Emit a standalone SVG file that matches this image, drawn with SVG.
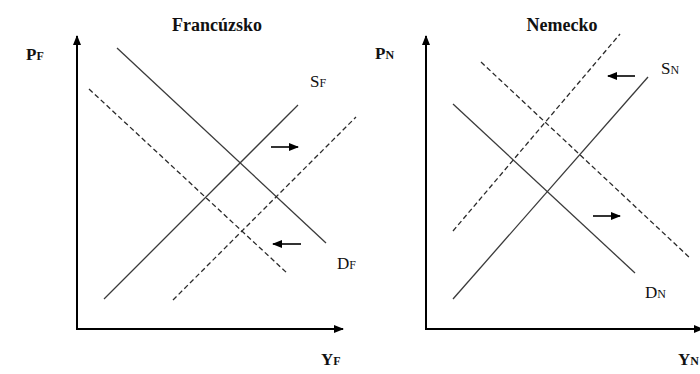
<svg xmlns="http://www.w3.org/2000/svg" width="700" height="374" viewBox="0 0 700 374">
<defs>
<marker id="ah" markerUnits="userSpaceOnUse" markerWidth="10" markerHeight="10" refX="9" refY="4" orient="auto">
<path d="M0,0 L10,4 L0,8 z" fill="#000"/>
</marker>
<marker id="sh" markerUnits="userSpaceOnUse" markerWidth="10" markerHeight="10" refX="9" refY="4" orient="auto">
<path d="M0,0 L10,4 L0,8 z" fill="#000"/>
</marker>
<style>
.axis{stroke:#000;stroke-width:2;fill:none}
.curve{stroke:#3a3a3a;stroke-width:1.3;fill:none}
.shifted{stroke:#2a2a2a;stroke-width:1.3;fill:none;stroke-dasharray:5 3}
.move{stroke:#000;stroke-width:1.6;fill:none}
.title{font-family:"Liberation Serif",serif;font-weight:bold;font-size:18px;fill:#111}
.ax{font-family:"Liberation Serif",serif;font-weight:bold;font-size:17px;fill:#111}
.ax .sub{font-size:12px}
.lbl{font-family:"Liberation Serif",serif;font-size:17px;fill:#111}
.lbl .sub{font-size:12px}
</style>
</defs>
<rect width="700" height="374" fill="#fff"/>
<g id="francuzsko">
<text class="title" x="217" y="31" text-anchor="middle">Francúzsko</text>
<g id="axes-F">
<line class="axis" x1="77" y1="329" x2="77" y2="36" marker-end="url(#ah)"/>
<line class="axis" x1="76" y1="329" x2="343" y2="329" marker-end="url(#ah)"/>
<text class="ax" x="26" y="60">P<tspan class="sub">F</tspan></text>
<text class="ax" x="321" y="365">Y<tspan class="sub">F</tspan></text>
</g>
<g id="curves-F">
<line class="curve" x1="117" y1="48" x2="326" y2="243"/>
<line class="curve" x1="104" y1="299" x2="298" y2="105"/>
<line class="shifted" x1="89" y1="89" x2="287" y2="273"/>
<line class="shifted" x1="173" y1="300" x2="356" y2="117"/>
<text class="lbl" x="310" y="87">S<tspan class="sub">F</tspan></text>
<text class="lbl" x="337" y="269">D<tspan class="sub">F</tspan></text>
</g>
<g id="shifts-F">
<line class="move" x1="271" y1="147" x2="298" y2="147" marker-end="url(#sh)"/>
<line class="move" x1="301" y1="244" x2="273" y2="244" marker-end="url(#sh)"/>
</g>
</g>
<g id="nemecko">
<text class="title" x="562" y="31" text-anchor="middle">Nemecko</text>
<g id="axes-N">
<line class="axis" x1="426" y1="329" x2="426" y2="36" marker-end="url(#ah)"/>
<line class="axis" x1="425" y1="329" x2="703" y2="329" marker-end="url(#ah)"/>
<text class="ax" x="375" y="59">P<tspan class="sub">N</tspan></text>
<text class="ax" x="678" y="365">Y<tspan class="sub">N</tspan></text>
</g>
<g id="curves-N">
<line class="curve" x1="453" y1="104" x2="635" y2="273"/>
<line class="curve" x1="453" y1="299" x2="648" y2="77"/>
<line class="shifted" x1="481" y1="62" x2="690" y2="258"/>
<line class="shifted" x1="453" y1="231" x2="620" y2="34"/>
<text class="lbl" x="661" y="74">S<tspan class="sub">N</tspan></text>
<text class="lbl" x="645" y="298">D<tspan class="sub">N</tspan></text>
</g>
<g id="shifts-N">
<line class="move" x1="635" y1="76" x2="608" y2="76" marker-end="url(#sh)"/>
<line class="move" x1="593" y1="216" x2="620" y2="216" marker-end="url(#sh)"/>
</g>
</g>
</svg>
